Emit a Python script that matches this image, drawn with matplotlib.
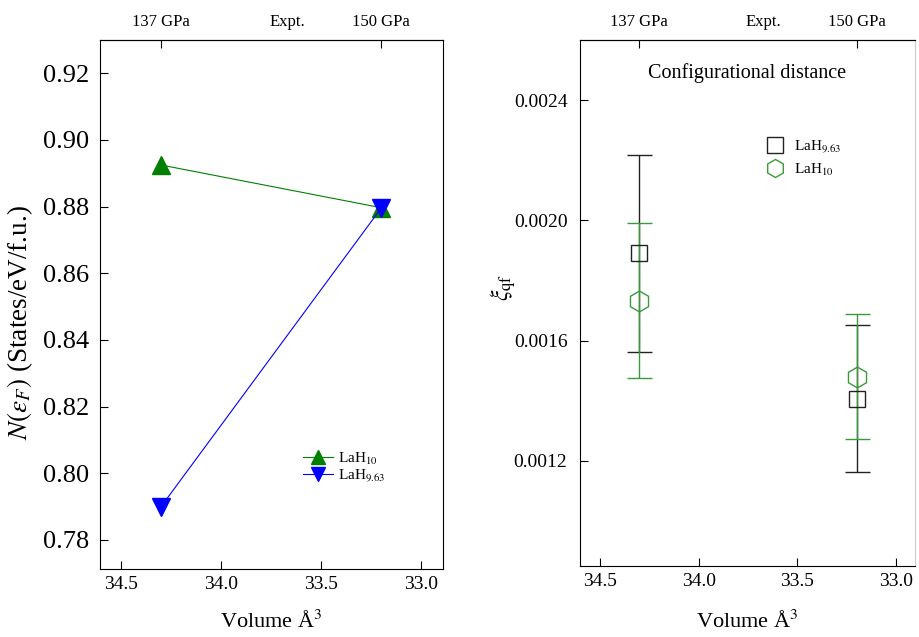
import matplotlib
matplotlib.use("Agg")
import matplotlib.pyplot as plt
from matplotlib.lines import Line2D
import numpy as np

plt.rcParams['font.family'] = ['Liberation Serif', 'DejaVu Serif']
plt.rcParams['mathtext.fontset'] = 'stix'

# Data
volume = [34.3, 33.2]
top_labels = ["137 GPa", "Expt.", "150 GPa"]
top_positions = [34.3, 33.67, 33.2]

dos_lah10 = [0.8925, 0.8797]
dos_lah963 = [0.790, 0.8795]

xi_lah963 = [0.00189, 0.001407]
xi_lah963_err = [0.000327, 0.000245]
xi_lah10 = [0.001733, 0.00148]
xi_lah10_err = [0.000257, 0.000207]

black_c = '#222222'
green_c = '#3a9a3a'

fig = plt.figure(figsize=(9.19, 6.37), dpi=100)
ax1 = fig.add_axes([100/919, 1-569/637, 343/919, 529/637])
ax2 = fig.add_axes([580/919, 1-566/637, 335/919, 526/637])

# Left panel
ax1.plot(volume, dos_lah10, color='green', lw=0.8, marker='^', ms=13,
         markerfacecolor='green', markeredgecolor='green', label='LaH$_{10}$')
ax1.plot(volume, dos_lah963, color='blue', lw=0.8, marker='v', ms=13,
         markerfacecolor='blue', markeredgecolor='blue', label='LaH$_{9.63}$')
ax1.set_xlim(34.605, 32.89)
ax1.set_ylim(0.7713, 0.930)
yt = [0.78, 0.80, 0.82, 0.84, 0.86, 0.88, 0.90, 0.92]
ax1.set_yticks(yt)
ax1.set_yticklabels([f"{v:.2f}" for v in yt])
ax1.set_xticks([34.5, 34.0, 33.5, 33.0])
ax1.set_xticklabels(["34.5", "34.0", "33.5", "33.0"])
ax1.tick_params(axis='y', labelsize=19, direction='in', length=6, pad=8)
ax1.tick_params(axis='x', labelsize=14, direction='in', length=6, pad=5)
ax1.set_ylabel(r"$N(\epsilon_F)$ (States/eV/f.u.)", fontsize=19.5)
ax1.yaxis.set_label_coords(-0.19, 0.465)
ax1.set_xlabel("Volume Å$^3$", fontsize=16, labelpad=13)
ax1.legend(loc='lower left', bbox_to_anchor=(0.551, 0.135), frameon=False,
           fontsize=11, handlelength=2.0, handletextpad=0.3, labelspacing=0.05,
           markerscale=0.8)

# Right panel
ax2.errorbar(volume, xi_lah963, yerr=xi_lah963_err, fmt='s', ms=12,
             mfc='none', mec=black_c, ecolor=black_c,
             elinewidth=1.0, capsize=9, capthick=1.0)
ax2.errorbar(volume, xi_lah10, yerr=xi_lah10_err, fmt='h', ms=15,
             mfc='none', mec=green_c, ecolor=green_c,
             elinewidth=1.0, capsize=9, capthick=1.0)
ax2.set_xlim(34.6, 32.905)
ax2.set_ylim(0.00085, 0.0026)
ax2.set_yticks([0.0012, 0.0016, 0.0020, 0.0024])
ax2.set_yticklabels(["0.0012", "0.0016", "0.0020", "0.0024"])
ax2.set_xticks([34.5, 34.0, 33.5, 33.0])
ax2.set_xticklabels(["34.5", "34.0", "33.5", "33.0"])
ax2.tick_params(axis='y', labelsize=14, direction='in', length=6, pad=9)
ax2.tick_params(axis='x', labelsize=14, direction='in', length=6, pad=5)
ax2.set_ylabel(r"$\xi_{\rm qf}$", fontsize=17)
ax2.yaxis.set_label_coords(-0.185, 0.53)
ax2.set_xlabel("Volume Å$^3$", fontsize=16, labelpad=15)
ax2.set_title("Configurational distance", fontsize=14.5, y=0.912)
handles = [Line2D([], [], ls='none', marker='s', ms=11, mfc='none', mec=black_c),
           Line2D([], [], ls='none', marker='h', ms=13, mfc='none', mec=green_c)]
ax2.legend(handles, ['LaH$_{9.63}$', 'LaH$_{10}$'], loc='upper left',
           bbox_to_anchor=(0.515, 0.838), frameon=False,
           fontsize=11, handletextpad=0.6, labelspacing=0.4, handlelength=1.2)
ax2.spines['right'].set_color('#cccccc')

for ax in (ax1, ax2):
    sec = ax.secondary_xaxis('top')
    sec.set_xticks(top_positions)
    sec.set_xticklabels(top_labels, fontsize=12)
    sec.tick_params(direction='in', length=6, pad=7.5)
    ticks = sec.xaxis.get_major_ticks()
    ticks[1].tick1line.set_visible(False)
    ticks[1].tick2line.set_visible(False)
    ax.tick_params(top=False, right=False)

fig.savefig("out.png", dpi=100)
